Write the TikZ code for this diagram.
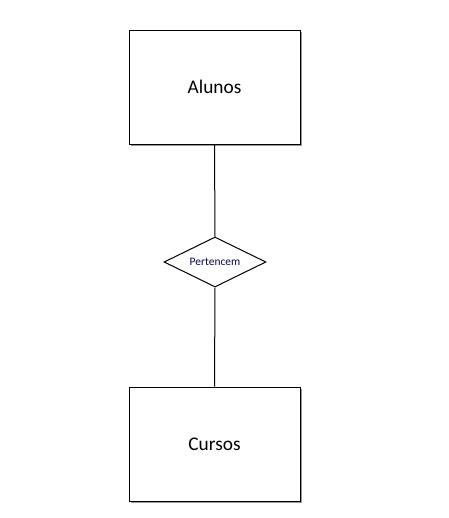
\documentclass[tikz,border=0pt]{standalone}
\usepackage{fontspec}
\setmainfont{Carlito}
\usetikzlibrary{shapes.geometric}
\begin{document}
\begin{tikzpicture}[x=0.75pt,y=-0.75pt,line width=0.75pt,
  entity/.style={draw=black,fill=white,minimum width=128.25pt,minimum height=85.5pt,inner sep=0pt,
    font=\fontsize{14.5}{16}\selectfont,text=black},
  shadowbox/.style={fill=black!40,draw=none,minimum width=128.25pt,minimum height=85.5pt,inner sep=0pt},
  rel/.style={draw=black,fill=white,diamond,aspect=2.04,minimum width=76.5pt,minimum height=37.5pt,inner sep=0pt,
    font=\fontsize{8.6}{10}\selectfont,text={rgb,255:red,10;green,10;blue,60}}]
\useasboundingbox (0,0) rectangle (449,518);
\fill[white] (0,0) rectangle (449,518);
\node[shadowbox] at (216.5,89) {};
\node[shadowbox] at (216.5,446) {};
\node[entity] (alunos) at (214.5,87) {Alunos};
\node[entity] (cursos) at (214.5,444) {Cursos};
\node[rel] (pert) at (215,262) {Pertencem};
\draw (alunos.south) -- (pert.north);
\draw (pert.south) -- (cursos.north);
\end{tikzpicture}
\end{document}
